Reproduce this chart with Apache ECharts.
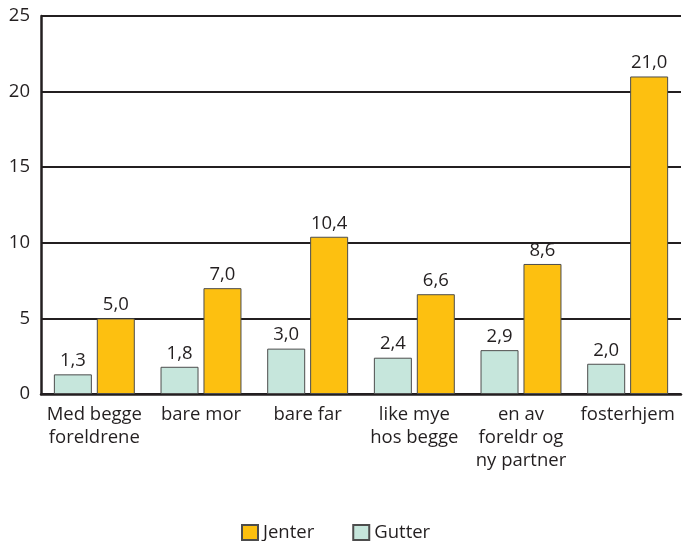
<!DOCTYPE html>
<html>
<head>
<meta charset="utf-8">
<script src="https://cdn.jsdelivr.net/npm/echarts@6/dist/echarts.min.js"></script>
<style>
html, body { margin: 0; padding: 0; background: #fff; }
#chart { width: 690px; height: 541px; }
</style>
</head>
<body>
<div id="chart"></div>
<script>
var categories = ['Med begge\nforeldrene', 'bare mor', 'bare far', 'like mye\nhos begge', 'en av\nforeldr og\nny partner', 'fosterhjem'];
var gutter = [1.3, 1.8, 3.0, 2.4, 2.9, 2.0];
var jenter = [5.0, 7.0, 10.4, 6.6, 8.6, 21.0];
var yTicks = [0, 5, 10, 15, 20, 25];

var font = 'Open Sans';
var ink = '#231f20';

function fmt(p) {
	return p.value.toFixed(1).replace('.', ',');
}

var myChart = echarts.init(document.getElementById('chart'));
var option = {
	animation: false,
	textStyle: { fontFamily: font, color: ink },
	legend: {
		data: ['Jenter', 'Gutter'],
		top: 518,
		left: 236,
		itemWidth: 16,
		itemHeight: 15,
		itemGap: 38,
		icon: 'rect',
		textStyle: { fontFamily: font, fontSize: 18.5, color: ink }
	},
	grid: { left: 41, right: 9, top: 16, bottom: 147 },
	xAxis: {
		type: 'category',
		data: categories,
		axisLine: { lineStyle: { color: ink, width: 2.5 } },
		axisTick: { inside: true, length: 9, lineStyle: { color: ink, width: 2 } },
		axisLabel: { fontFamily: font, fontSize: 18.5, color: ink, lineHeight: 23, margin: 9, interval: 0 }
	},
	yAxis: {
		type: 'value',
		min: yTicks[0],
		max: yTicks[yTicks.length - 1],
		interval: 5,
		axisLine: { show: true, lineStyle: { color: ink, width: 2.5 } },
		axisTick: { show: false },
		splitLine: { lineStyle: { color: ink, width: 2 } },
		axisLabel: { fontFamily: font, fontSize: 18.5, color: ink, margin: 11 }
	},
	series: [{
		name: 'Gutter',
		type: 'bar',
		data: gutter,
		barWidth: 38,
		barGap: '13%',
		itemStyle: { color: '#c6e6dc', borderColor: '#4d4d4d', borderWidth: 1 },
		label: { show: true, position: 'top', distance: 4, formatter: fmt, fontFamily: font, fontSize: 18.5, color: ink }
	}, {
		name: 'Jenter',
		type: 'bar',
		data: jenter,
		barWidth: 38,
		barGap: '13%',
		itemStyle: { color: '#fdc010', borderColor: '#4d4d4d', borderWidth: 1 },
		label: { show: true, position: 'top', distance: 4, formatter: fmt, fontFamily: font, fontSize: 18.5, color: ink }
	}]
};
myChart.setOption(option);
</script>
</body>
</html>
